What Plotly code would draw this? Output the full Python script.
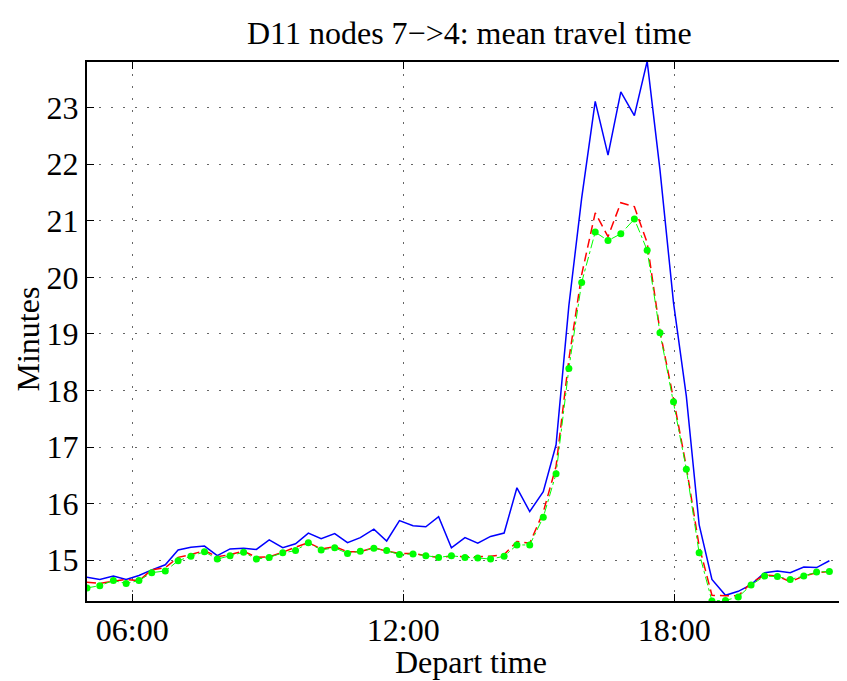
import plotly.graph_objects as go

times = ["05:00", "05:17", "05:35", "05:52", "06:09", "06:26", "06:44", "07:01", "07:18", "07:36",
         "07:53", "08:10", "08:28", "08:45", "09:02", "09:20", "09:37", "09:54", "10:11", "10:29",
         "10:46", "11:03", "11:21", "11:38", "11:55", "12:13", "12:30", "12:47", "13:04", "13:22",
         "13:39", "13:56", "14:14", "14:31", "14:48", "15:06", "15:23", "15:40", "15:57", "16:15",
         "16:32", "16:49", "17:07", "17:24", "17:41", "17:59", "18:16", "18:33", "18:50", "19:08",
         "19:25", "19:42", "20:00", "20:17", "20:34", "20:52", "21:09", "21:26"]

blue = [14.70, 14.66, 14.72, 14.66, 14.73, 14.83, 14.92, 15.18, 15.23, 15.25,
        15.08, 15.20, 15.21, 15.19, 15.36, 15.22, 15.29, 15.48, 15.38, 15.47,
        15.31, 15.40, 15.55, 15.34, 15.70, 15.61, 15.59, 15.77, 15.22, 15.40,
        15.30, 15.42, 15.48, 16.28, 15.86, 16.21, 17.04, 19.50, 21.40, 23.11,
        22.16, 23.28, 22.86, 23.82, 21.90, 19.55, 17.90, 15.63, 14.66, 14.38,
        14.45, 14.57, 14.78, 14.81, 14.78, 14.88, 14.87, 14.99]

red = [14.61, 14.59, 14.63, 14.66, 14.64, 14.83, 14.87, 15.05, 15.10, 15.17,
       15.06, 15.10, 15.16, 15.05, 15.06, 15.14, 15.23, 15.31, 15.20, 15.24,
       15.15, 15.15, 15.22, 15.16, 15.12, 15.12, 15.08, 15.05, 15.07, 15.06,
       15.06, 15.07, 15.10, 15.33, 15.30, 15.85, 16.66, 18.55, 20.05, 21.14,
       20.72, 21.32, 21.25, 20.61, 19.05, 17.85, 16.65, 15.25, 14.38, 14.37,
       14.37, 14.60, 14.74, 14.72, 14.62, 14.72, 14.78, 14.80]

green = [14.51, 14.55, 14.64, 14.59, 14.64, 14.78, 14.81, 14.99, 15.07, 15.15,
         15.02, 15.08, 15.14, 15.02, 15.05, 15.13, 15.17, 15.31, 15.18, 15.22,
         15.12, 15.16, 15.21, 15.17, 15.10, 15.11, 15.08, 15.05, 15.08, 15.05,
         15.04, 15.02, 15.07, 15.27, 15.27, 15.76, 16.53, 18.39, 19.91, 20.80,
         20.65, 20.77, 21.03, 20.48, 19.02, 17.80, 16.61, 15.13, 14.28, 14.29,
         14.35, 14.56, 14.72, 14.71, 14.66, 14.72, 14.79, 14.80]

x = ["2000-01-01 " + t for t in times]

FONT = "Liberation Serif"

fig = go.Figure()
fig.add_trace(go.Scatter(x=x, y=blue, mode="lines",
                         line=dict(color="#0000ff", width=1.5)))
fig.add_trace(go.Scatter(x=x, y=red, mode="lines",
                         line=dict(color="#ff0000", width=1.5, dash="9px,5px")))
fig.add_trace(go.Scatter(x=x, y=green, mode="lines+markers",
                         line=dict(color="#00ff00", width=1, dash="dashdot"),
                         marker=dict(color="#00ff00", size=7, symbol="circle")))

# page has an 8px body margin, so the figure is sized/offset to compensate
fig.update_layout(
    width=839, height=673,
    margin=dict(l=79, r=0, t=54, b=80, autoexpand=False),
    paper_bgcolor="white", plot_bgcolor="white",
    showlegend=False,
    font=dict(family=FONT, size=32, color="black"),
    xaxis=dict(
        type="date", automargin=False,
        range=["2000-01-01 05:00", "2000-01-01 21:49:24"],
        tickvals=["2000-01-01 06:00", "2000-01-01 12:00", "2000-01-01 18:00"],
        ticktext=["06:00", "12:00", "18:00"],
        ticks="inside", ticklen=7, tickwidth=1, tickcolor="black",
        showline=True, linecolor="black", linewidth=2, mirror="ticks",
        showgrid=True, gridcolor="#666666", gridwidth=1, griddash="2px,10px",
        zeroline=False,
        tickfont=dict(family=FONT, size=32, color="black"),
    ),
    yaxis=dict(
        automargin=False,
        range=[14.279, 23.807],
        tickvals=[15, 16, 17, 18, 19, 20, 21, 22, 23],
        ticks="inside", ticklen=7, tickwidth=1, tickcolor="black",
        showline=True, linecolor="black", linewidth=2, mirror=False,
        showgrid=True, gridcolor="#666666", gridwidth=1, griddash="2px,10px",
        zeroline=False,
        tickfont=dict(family=FONT, size=32, color="black"),
    ),
    annotations=[
        dict(text="D11 nodes 7\u2212>4: mean travel time", xref="paper", yref="paper",
             x=0.5, y=1, xshift=2, yshift=29, xanchor="center", yanchor="middle",
             showarrow=False, font=dict(family=FONT, size=32, color="black")),
        dict(text="Depart time", xref="paper", yref="paper",
             x=0.5, y=0, xshift=4, yshift=-61, xanchor="center", yanchor="middle",
             showarrow=False, font=dict(family=FONT, size=32, color="black")),
        dict(text="Minutes", xref="paper", yref="paper",
             x=0, y=0.5, xshift=-60, yshift=-8, xanchor="center", yanchor="middle",
             textangle=-90, showarrow=False, font=dict(family=FONT, size=32, color="black")),
    ],
)

fig.write_html("out.html")
